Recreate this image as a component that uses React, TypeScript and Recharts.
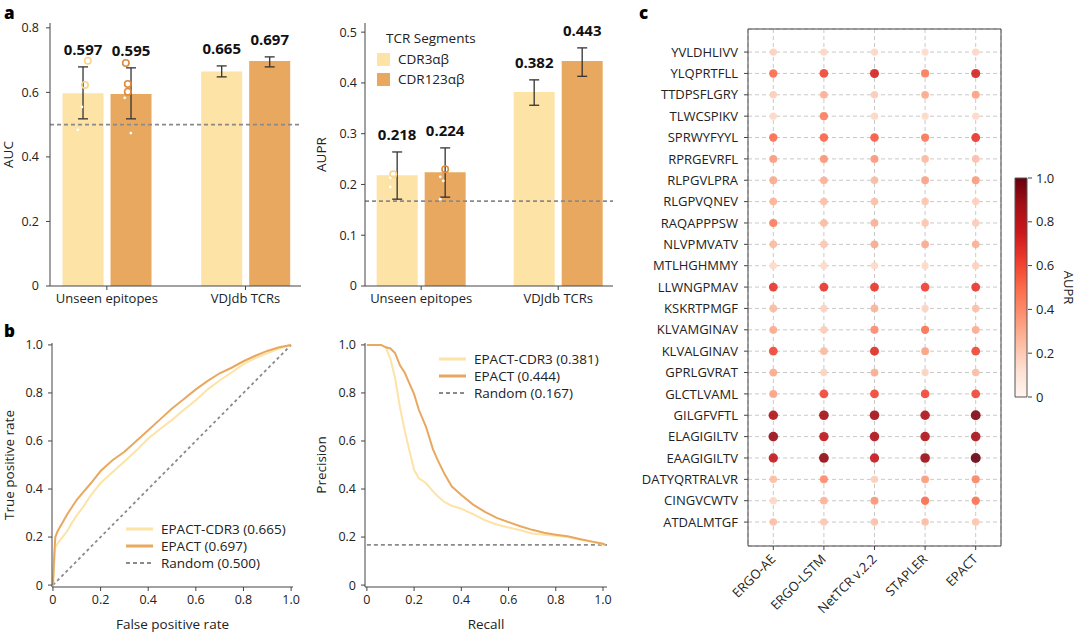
import React from 'react';
import {
  ComposedChart, Bar, XAxis, YAxis, ErrorBar, LabelList, ReferenceLine, Scatter,
  LineChart, Line, ScatterChart, CartesianGrid, BarChart, Label,
} from 'recharts';

const FONT = '"Open Sans", "DejaVu Sans", sans-serif';
const INK = '#222';
const AXIS = '#444';
const LIGHT = '#FDE3A6';
const DARK = '#E9A85F';
const GREY = '#8a8a8a';

// ---- panel a: AUC / AUPR bars
const groups = ['Unseen epitopes', 'VDJdb TCRs'];
const aucCdr3 = [0.597, 0.665];
const aucCdr123 = [0.595, 0.697];
const aucCdr3Lo = [0.518, 0.648];
const aucCdr3Hi = [0.679, 0.682];
const aucCdr123Lo = [0.518, 0.679];
const aucCdr123Hi = [0.676, 0.71];
const aucRandom = 0.5;

const auprCdr3 = [0.218, 0.382];
const auprCdr123 = [0.224, 0.443];
const auprCdr3Lo = [0.171, 0.356];
const auprCdr3Hi = [0.264, 0.406];
const auprCdr123Lo = [0.175, 0.413];
const auprCdr123Hi = [0.272, 0.469];
const auprRandom = 0.167;

// per-epitope points (unseen epitopes group), x = jitter around the group
const aucRing3 = [0.698, 0.623];
const aucRing3X = [-0.137, -0.158];
const aucDot3 = [0.555, 0.484];
const aucDot3X = [-0.18, -0.209];
const aucRing123 = [0.691, 0.626, 0.602];
const aucRing123X = [0.137, 0.151, 0.151];
const aucDot123 = [0.583, 0.474];
const aucDot123X = [0.129, 0.173];

const auprRing3 = [0.22];
const auprRing3X = [-0.204];
const auprDot3 = [0.213, 0.195];
const auprDot3X = [-0.226, -0.226];
const auprRing123 = [0.23];
const auprRing123X = [0.175];
const auprDot123 = [0.215, 0.207, 0.171];
const auprDot123X = [0.139, 0.161, 0.139];

// ---- panel b: ROC and PR curves
const fpr = [0, 0.005, 0.01, 0.02, 0.04, 0.06, 0.08, 0.1, 0.13, 0.16, 0.2, 0.25, 0.3, 0.35, 0.4, 0.45, 0.5, 0.55, 0.6, 0.65, 0.7, 0.75, 0.8, 0.85, 0.9, 0.95, 1.0];
const tprEpact = [0, 0.12, 0.2, 0.225, 0.26, 0.295, 0.325, 0.355, 0.39, 0.425, 0.475, 0.52, 0.555, 0.6, 0.645, 0.69, 0.735, 0.775, 0.815, 0.85, 0.882, 0.905, 0.932, 0.955, 0.975, 0.99, 1.0];
const tprCdr3 = [0, 0.08, 0.155, 0.175, 0.2, 0.225, 0.26, 0.29, 0.33, 0.375, 0.425, 0.47, 0.515, 0.56, 0.61, 0.65, 0.688, 0.73, 0.77, 0.815, 0.852, 0.885, 0.92, 0.945, 0.965, 0.985, 1.0];

const recall = [0, 0.03, 0.06, 0.08, 0.1, 0.12, 0.14, 0.16, 0.18, 0.2, 0.22, 0.25, 0.28, 0.3, 0.33, 0.36, 0.4, 0.45, 0.5, 0.55, 0.6, 0.65, 0.7, 0.75, 0.8, 0.85, 0.9, 0.95, 1.0, 1.01];
const precEpact = [1, 1, 1, 0.99, 0.985, 0.965, 0.915, 0.885, 0.84, 0.795, 0.73, 0.66, 0.565, 0.52, 0.46, 0.41, 0.375, 0.335, 0.305, 0.28, 0.262, 0.245, 0.23, 0.218, 0.21, 0.203, 0.192, 0.182, 0.172, 0.167];
const precCdr3 = [1, 1, 1, 0.99, 0.94, 0.86, 0.74, 0.645, 0.56, 0.48, 0.445, 0.425, 0.39, 0.37, 0.345, 0.33, 0.318, 0.295, 0.27, 0.252, 0.24, 0.228, 0.215, 0.21, 0.205, 0.2, 0.19, 0.18, 0.17, 0.167];

const rocLegend = ['EPACT-CDR3 (0.665)', 'EPACT (0.697)', 'Random (0.500)'];
const prLegend = ['EPACT-CDR3 (0.381)', 'EPACT (0.444)', 'Random (0.167)'];

// ---- panel c: per-epitope AUPR by model
const epitopes = ['YVLDHLIVV', 'YLQPRTFLL', 'TTDPSFLGRY', 'TLWCSPIKV', 'SPRWYFYYL', 'RPRGEVRFL', 'RLPGVLPRA', 'RLGPVQNEV', 'RAQAPPPSW', 'NLVPMVATV', 'MTLHGHMMY', 'LLWNGPMAV', 'KSKRTPMGF', 'KLVAMGINAV', 'KLVALGINAV', 'GPRLGVRAT', 'GLCTLVAML', 'GILGFVFTL', 'ELAGIGILTV', 'EAAGIGILTV', 'DATYQRTRALVR', 'CINGVCWTV', 'ATDALMTGF'];
const models = ['ERGO-AE', 'ERGO-LSTM', 'NetTCR v.2.2', 'STAPLER', 'EPACT'];
const ergoAe = [0.18, 0.5, 0.19, 0.15, 0.5, 0.35, 0.31, 0.28, 0.44, 0.26, 0.15, 0.65, 0.26, 0.31, 0.6, 0.31, 0.33, 0.84, 0.9, 0.78, 0.25, 0.16, 0.24];
const ergoLstm = [0.16, 0.6, 0.29, 0.44, 0.52, 0.37, 0.29, 0.24, 0.26, 0.22, 0.15, 0.65, 0.18, 0.2, 0.26, 0.17, 0.6, 0.88, 0.8, 0.92, 0.4, 0.28, 0.21];
const netTcr = [0.16, 0.72, 0.2, 0.16, 0.55, 0.36, 0.26, 0.24, 0.29, 0.31, 0.15, 0.65, 0.28, 0.4, 0.68, 0.3, 0.6, 0.88, 0.85, 0.78, 0.19, 0.37, 0.23];
const stapler = [0.14, 0.45, 0.31, 0.15, 0.47, 0.26, 0.33, 0.22, 0.22, 0.31, 0.15, 0.62, 0.17, 0.48, 0.33, 0.17, 0.6, 0.85, 0.84, 0.9, 0.35, 0.5, 0.25];
const epact = [0.16, 0.72, 0.33, 0.15, 0.65, 0.24, 0.35, 0.19, 0.2, 0.29, 0.18, 0.65, 0.24, 0.3, 0.6, 0.25, 0.6, 0.95, 0.87, 1.0, 0.42, 0.48, 0.22];
const modelValues = [ergoAe, ergoLstm, netTcr, stapler, epact];
const cbTicks = [0, 0.2, 0.4, 0.6, 0.8, 1.0];
const cbLabels = ['0', '0.2', '0.4', '0.6', '0.8', '1.0'];

// matplotlib "Reds"
const REDS = ['#fff5f0', '#fee0d2', '#fcbba1', '#fc9272', '#fb6a4a', '#ef3b2c', '#cb181d', '#a50f15', '#67000d'];
const hexRgb = (h: string) => [1, 3, 5].map((i) => parseInt(h.slice(i, i + 2), 16));
function reds(v: number) {
  const t = Math.max(0, Math.min(1, v)) * (REDS.length - 1);
  const i = Math.min(Math.floor(t), REDS.length - 2);
  const f = t - i;
  const a = hexRgb(REDS[i]);
  const b = hexRgb(REDS[i + 1]);
  const c = a.map((x, k) => Math.round(x + (b[k] - x) * f));
  return `rgb(${c[0]},${c[1]},${c[2]})`;
}

const tickStyle = { fontSize: 12.5, fill: INK, fontFamily: FONT };
const titleStyle = { fontSize: 13.5, fill: INK, fontFamily: FONT };
const oneDec = (v: number) => (v === 0 ? '0' : v.toFixed(1));
const BAR_DOMAIN = [-0.41, 1.4];

const pts = (ys: number[], xs: number[]) => ys.map((y, i) => ({ x: xs[i], y }));

const valueLabel = (hi: number[]) => (p: any) => {
  const x = Number(p.x), y = Number(p.y), w = Number(p.width), h = Number(p.height);
  const v = Number(p.value);
  const top = y - (hi[p.index] - v) * (h / v);
  return (
    <text x={x + w / 2} y={top - 12} textAnchor="middle" fontSize={15} fontWeight={700} fill="#111" fontFamily={FONT}>
      {v.toFixed(3)}
    </text>
  );
};

const ringShape = (color: string) => (p: any) => (
  <circle cx={p.cx} cy={p.cy} r={3.2} fill="none" stroke={color} strokeWidth={1.6} />
);
const dotShape = (p: any) => <circle cx={p.cx} cy={p.cy} r={1.4} fill="#fff" />;

function BarPanel(props: any) {
  const {
    left, width, yW, right, max, ticks, yLabel, labelOff, tickMargin,
    v3, v123, lo3, hi3, lo123, hi123, random, rings3, dots3, rings123, dots123,
  } = props;
  const data = groups.map((g, i) => ({
    x: i,
    cdr3: v3[i],
    cdr123: v123[i],
    e3: [v3[i] - lo3[i], hi3[i] - v3[i]],
    e123: [v123[i] - lo123[i], hi123[i] - v123[i]],
  }));
  return (
    <div style={{ position: 'absolute', left, top: 0 }}>
      <ComposedChart width={width} height={310} data={data} barGap={7} margin={{ top: 23, right, bottom: 0, left: 0 }}>
        <XAxis dataKey="x" type="number" domain={BAR_DOMAIN} ticks={[0, 1]} allowDataOverflow interval={0}
          tickFormatter={(v: number) => groups[v]} tick={{ ...tickStyle, fontSize: 13 }} height={24}
          tickSize={4} tickMargin={4} stroke={AXIS} />
        <XAxis xAxisId="pts" dataKey="x" type="number" domain={BAR_DOMAIN} allowDataOverflow hide />
        <YAxis type="number" domain={[0, max]} ticks={ticks} allowDataOverflow width={yW} tickFormatter={oneDec}
          tick={tickStyle} tickSize={4} tickMargin={tickMargin} stroke={AXIS}>
          <Label value={yLabel} angle={-90} position="insideLeft" offset={labelOff}
            style={{ ...titleStyle, textAnchor: 'middle' }} />
        </YAxis>
        <Bar dataKey="cdr3" fill={LIGHT} barSize={41} isAnimationActive={false}>
          <ErrorBar dataKey="e3" width={5} stroke="#333" strokeWidth={1.3} isAnimationActive={false} />
          <LabelList dataKey="cdr3" content={valueLabel(hi3)} />
        </Bar>
        <Bar dataKey="cdr123" fill={DARK} barSize={41} isAnimationActive={false}>
          <ErrorBar dataKey="e123" width={5} stroke="#333" strokeWidth={1.3} isAnimationActive={false} />
          <LabelList dataKey="cdr123" content={valueLabel(hi123)} />
        </Bar>
        <ReferenceLine y={random} stroke={GREY} strokeWidth={1.8} strokeDasharray="4 3" />
        <Scatter xAxisId="pts" data={rings3} dataKey="y" shape={ringShape('#F9D489')} isAnimationActive={false} />
        <Scatter xAxisId="pts" data={dots3} dataKey="y" shape={dotShape} isAnimationActive={false} />
        <Scatter xAxisId="pts" data={rings123} dataKey="y" shape={ringShape('#DE8B3B')} isAnimationActive={false} />
        <Scatter xAxisId="pts" data={dots123} dataKey="y" shape={dotShape} isAnimationActive={false} />
      </ComposedChart>
    </div>
  );
}

function LineLegend({ left, top, items, gap }: any) {
  const styles = [
    { color: LIGHT, dash: undefined, w: 3 },
    { color: DARK, dash: undefined, w: 3 },
    { color: GREY, dash: '4 3', w: 2 },
  ];
  return (
    <div style={{ position: 'absolute', left, top, fontFamily: FONT, fontSize: 13.5, color: INK }}>
      {items.map((t: string, i: number) => (
        <div key={t} style={{ position: 'absolute', top: i * gap, left: 0, height: 18, display: 'flex', alignItems: 'center', whiteSpace: 'nowrap' }}>
          <svg width={28} height={6} style={{ marginRight: 7 }}>
            <line x1={0} y1={3} x2={27} y2={3} stroke={styles[i].color} strokeWidth={styles[i].w} strokeDasharray={styles[i].dash} />
          </svg>
          <span>{t}</span>
        </div>
      ))}
    </div>
  );
}

function RocPanel() {
  const cdr3 = fpr.map((x, i) => ({ x, y: tprCdr3[i] }));
  const ep = fpr.map((x, i) => ({ x, y: tprEpact[i] }));
  return (
    <div style={{ position: 'absolute', left: 0, top: 310 }}>
      <LineChart width={320} height={326} margin={{ top: 33, right: 27, bottom: 0, left: 0 }}>
        <XAxis dataKey="x" type="number" domain={[-0.004, 1.008]} ticks={[0, 0.2, 0.4, 0.6, 0.8, 1.0]} allowDataOverflow
          tickFormatter={oneDec} tick={tickStyle} height={49} tickSize={4} tickMargin={4} stroke={AXIS}>
          <Label value="False positive rate" position="insideBottom" offset={7} style={titleStyle} />
        </XAxis>
        <YAxis type="number" domain={[-0.008, 1.008]} ticks={[0, 0.2, 0.4, 0.6, 0.8, 1.0]} allowDataOverflow width={52}
          tickFormatter={oneDec} tick={tickStyle} tickSize={4} tickMargin={5} stroke={AXIS}>
          <Label value="True positive rate" angle={-90} position="insideLeft" offset={9}
            style={{ ...titleStyle, textAnchor: 'middle' }} />
        </YAxis>
        <Line data={[{ x: 0, y: 0 }, { x: 1, y: 1 }]} dataKey="y" stroke={GREY} strokeWidth={1.8} strokeDasharray="3 3" dot={false} isAnimationActive={false} />
        <Line data={cdr3} dataKey="y" stroke={LIGHT} strokeWidth={2} dot={false} isAnimationActive={false} />
        <Line data={ep} dataKey="y" stroke={DARK} strokeWidth={2} dot={false} isAnimationActive={false} />
      </LineChart>
    </div>
  );
}

function PrPanel() {
  const cdr3 = recall.map((x, i) => ({ x, y: precCdr3[i] }));
  const ep = recall.map((x, i) => ({ x, y: precEpact[i] }));
  return (
    <div style={{ position: 'absolute', left: 305, top: 310 }}>
      <LineChart width={335} height={326} margin={{ top: 33, right: 33, bottom: 0, left: 0 }}>
        <XAxis dataKey="x" type="number" domain={[-0.008, 1.017]} ticks={[0, 0.2, 0.4, 0.6, 0.8, 1.0]} allowDataOverflow
          tickFormatter={oneDec} tick={tickStyle} height={49} tickSize={4} tickMargin={4} stroke={AXIS}>
          <Label value="Recall" position="insideBottom" offset={7} style={titleStyle} />
        </XAxis>
        <YAxis type="number" domain={[-0.008, 1.008]} ticks={[0, 0.2, 0.4, 0.6, 0.8, 1.0]} allowDataOverflow width={60}
          tickFormatter={oneDec} tick={tickStyle} tickSize={4} tickMargin={5} stroke={AXIS}>
          <Label value="Precision" angle={-90} position="insideLeft" offset={16}
            style={{ ...titleStyle, textAnchor: 'middle' }} />
        </YAxis>
        <ReferenceLine segment={[{ x: 0, y: auprRandom }, { x: 1.017, y: auprRandom }]} stroke={GREY} strokeWidth={1.8} strokeDasharray="4 3" />
        <Line data={cdr3} dataKey="y" stroke={LIGHT} strokeWidth={2} dot={false} isAnimationActive={false} />
        <Line data={ep} dataKey="y" stroke={DARK} strokeWidth={2} dot={false} isAnimationActive={false} />
      </LineChart>
    </div>
  );
}

const ModelTick = (p: any) => {
  const x = Number(p.x) + 3, y = Number(p.y) + 6;
  return (
    <text x={x} y={y} transform={`rotate(-45 ${x} ${y})`} textAnchor="end" fontSize={13} fill={INK} fontFamily={FONT}>
      {models[p.payload.value]}
    </text>
  );
};

function MatrixPanel() {
  const data = models.flatMap((_, m) => epitopes.map((_, r) => ({ x: m, y: r, v: modelValues[m][r] })));
  const yDom = [-1.08, 23.12];
  return (
    <div style={{ position: 'absolute', left: 640, top: 0 }}>
      <ScatterChart width={440} height={636} margin={{ top: 29, right: 79, bottom: 0, left: 0 }}>
        <CartesianGrid stroke="#c9c9c9" strokeDasharray="4 3" />
        <XAxis dataKey="x" type="number" domain={[-0.5, 4.5]} ticks={[0, 1, 2, 3, 4]} interval={0} allowDataOverflow
          tick={<ModelTick />} height={90} tickSize={4} tickMargin={4} stroke={AXIS} />
        <YAxis dataKey="y" type="number" reversed domain={yDom} ticks={epitopes.map((_, i) => i)} interval={0} allowDataOverflow
          width={108} tickFormatter={(v: number) => epitopes[v]} tick={{ ...tickStyle, fontSize: 13 }} tickSize={4} tickMargin={6} stroke={AXIS} />
        <ReferenceLine x={4.5} stroke={AXIS} />
        <ReferenceLine y={yDom[0]} stroke={AXIS} />
        <Scatter data={data} isAnimationActive={false}
          shape={(p: any) => (
            <circle cx={p.cx} cy={p.cy} r={3.4 + 1.6 * p.payload.v} fill={reds(p.payload.v)} fillOpacity={0.9} />
          )} />
      </ScatterChart>
    </div>
  );
}

function ColorBar() {
  return (
    <div style={{ position: 'absolute', left: 1000, top: 170 }}>
      <BarChart width={80} height={240} data={[{ k: 'AUPR', v: 1 }]} barCategoryGap={0} margin={{ top: 8, right: 0, bottom: 13, left: 14 }}>
        <defs>
          <linearGradient id="redsBar" x1="0" y1="1" x2="0" y2="0">
            {REDS.map((c, i) => (
              <stop key={c} offset={i / (REDS.length - 1)} stopColor={c} />
            ))}
          </linearGradient>
        </defs>
        <XAxis dataKey="k" hide />
        <YAxis orientation="right" type="number" domain={[0, 1]} ticks={cbTicks} interval={0} width={52}
          tickFormatter={(v: number) => cbLabels[cbTicks.indexOf(v)]} tick={{ ...tickStyle, fontSize: 13 }}
          axisLine={false} tickSize={4} tickMargin={4} stroke={AXIS}>
          <Label value="AUPR" angle={90} position="insideRight" offset={11}
            style={{ ...titleStyle, fontSize: 13, textAnchor: 'middle' }} />
        </YAxis>
        <Bar dataKey="v" barSize={12} fill="url(#redsBar)" stroke="#555" strokeWidth={1} isAnimationActive={false} />
      </BarChart>
    </div>
  );
}

const panelLetter = (t: string, left: number, top: number) => (
  <div style={{ position: 'absolute', left, top, fontFamily: FONT, fontWeight: 800, fontSize: 17, lineHeight: '20px', color: '#000' }}>{t}</div>
);

export default function App() {
  return (
    <div style={{ position: 'absolute', left: 0, top: 0, width: 1080, height: 636, background: '#fff', overflow: 'hidden', fontFamily: FONT }}>
      <BarPanel left={0} width={320} yW={50} right={19} max={0.815} ticks={[0, 0.2, 0.4, 0.6, 0.8]} yLabel="AUC" labelOff={8}
        tickMargin={7} v3={aucCdr3} v123={aucCdr123} lo3={aucCdr3Lo} hi3={aucCdr3Hi} lo123={aucCdr123Lo} hi123={aucCdr123Hi}
        random={aucRandom} rings3={pts(aucRing3, aucRing3X)} dots3={pts(aucDot3, aucDot3X)}
        rings123={pts(aucRing123, aucRing123X)} dots123={pts(aucDot123, aucDot123X)} />
      <BarPanel left={305} width={335} yW={60} right={27} max={0.518} ticks={[0, 0.1, 0.2, 0.3, 0.4, 0.5]} yLabel="AUPR" labelOff={16}
        tickMargin={4} v3={auprCdr3} v123={auprCdr123} lo3={auprCdr3Lo} hi3={auprCdr3Hi} lo123={auprCdr123Lo} hi123={auprCdr123Hi}
        random={auprRandom} rings3={pts(auprRing3, auprRing3X)} dots3={pts(auprDot3, auprDot3X)}
        rings123={pts(auprRing123, auprRing123X)} dots123={pts(auprDot123, auprDot123X)} />
      <div style={{ position: 'absolute', left: 377, top: 29, fontSize: 13.5, color: INK, whiteSpace: 'nowrap' }}>
        <div style={{ marginLeft: 9, height: 19, lineHeight: '19px' }}>TCR Segments</div>
        <div style={{ display: 'flex', alignItems: 'center', height: 20, marginTop: 1 }}>
          <span style={{ width: 13, height: 13, background: LIGHT, marginRight: 8 }} />CDR3αβ
        </div>
        <div style={{ display: 'flex', alignItems: 'center', height: 20 }}>
          <span style={{ width: 13, height: 13, background: DARK, marginRight: 8 }} />CDR123αβ
        </div>
      </div>
      <RocPanel />
      <PrPanel />
      <LineLegend left={126} top={520} gap={17} items={rocLegend} />
      <LineLegend left={439} top={350} gap={17} items={prLegend} />
      <MatrixPanel />
      <ColorBar />
      {panelLetter('a', 4, 3)}
      {panelLetter('b', 4, 321)}
      {panelLetter('c', 639, 3)}
    </div>
  );
}
